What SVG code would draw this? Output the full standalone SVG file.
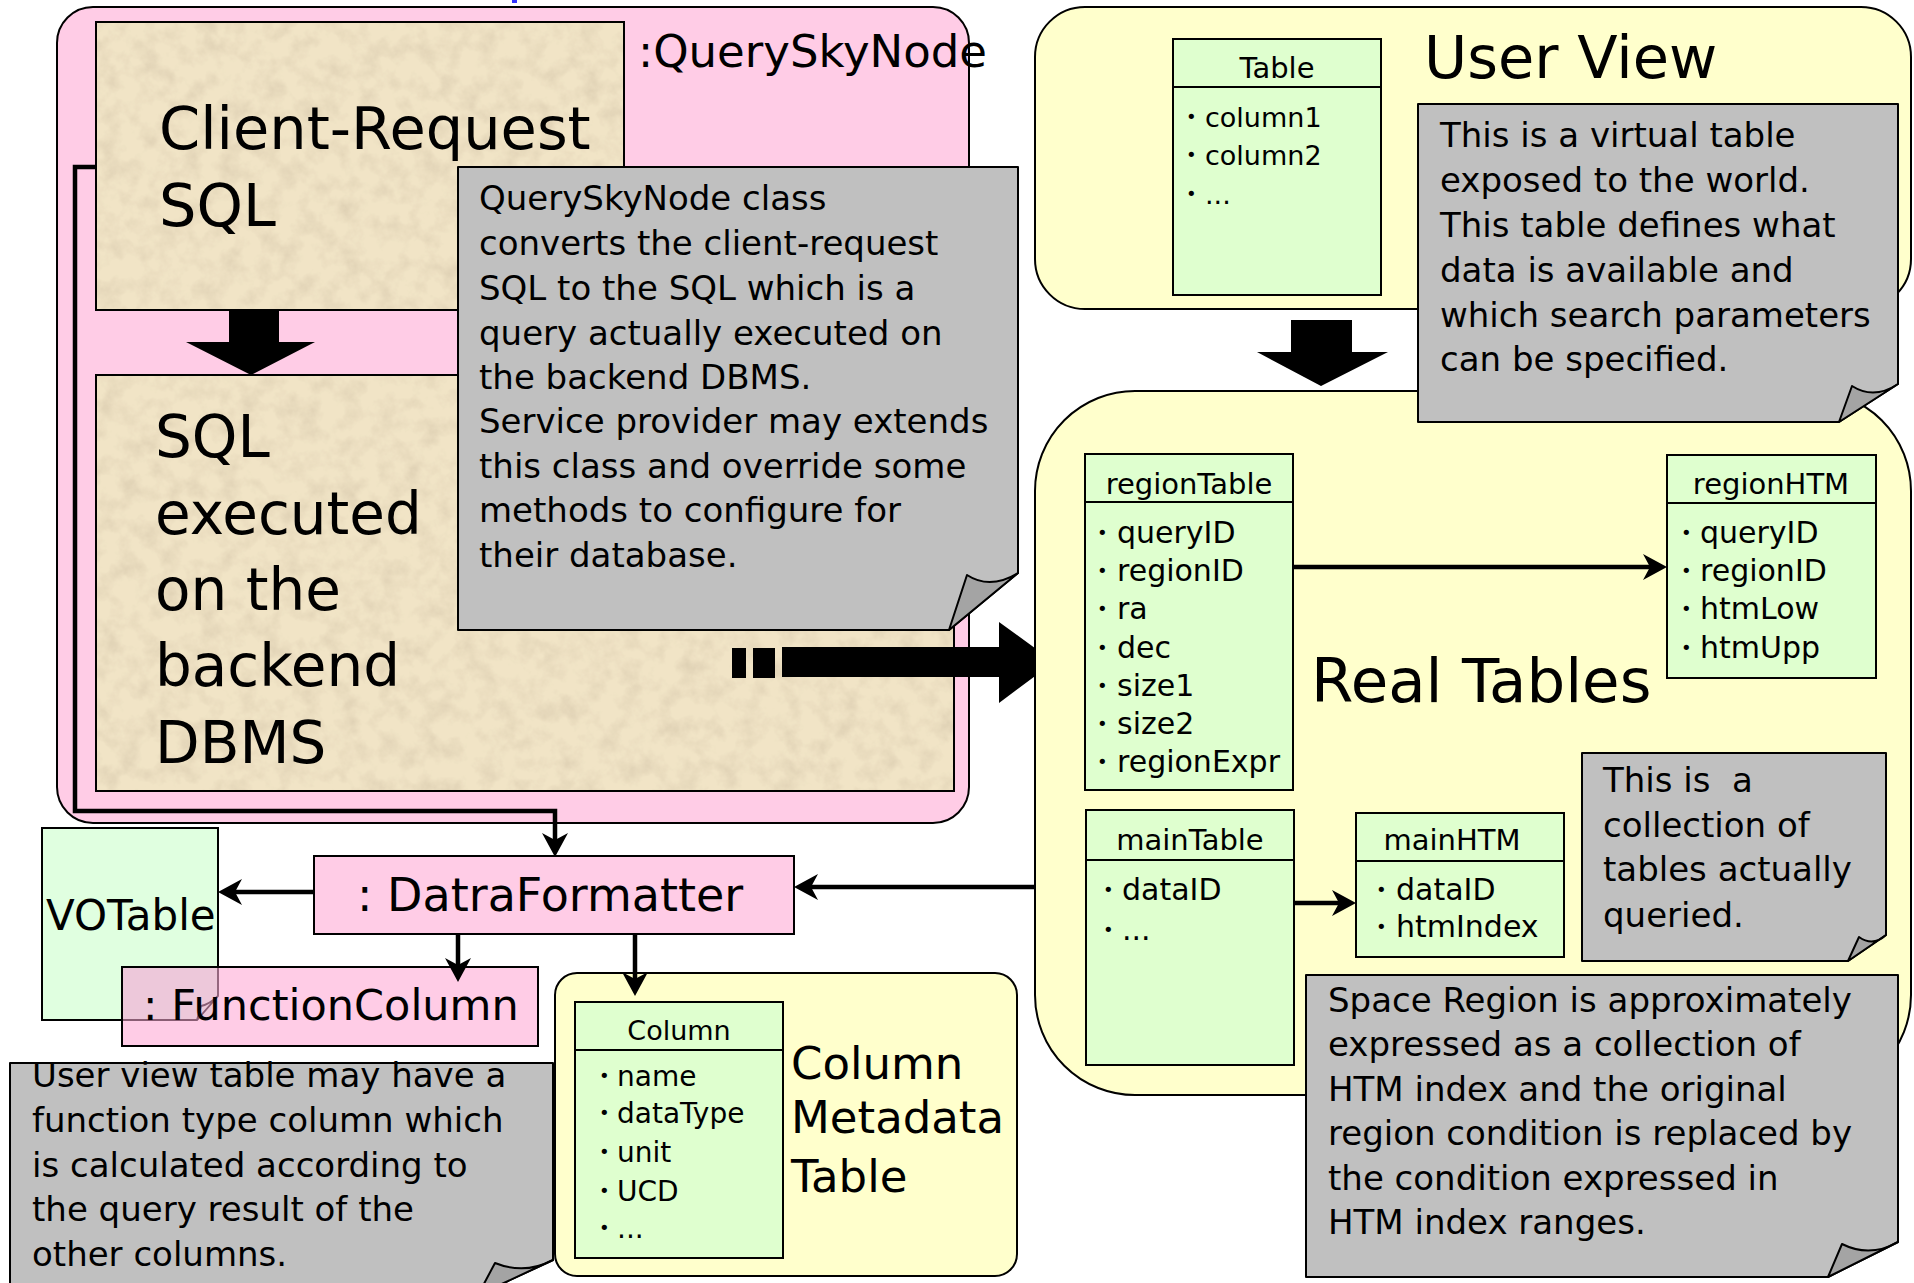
<svg xmlns="http://www.w3.org/2000/svg" width="1914" height="1283" viewBox="0 0 1914 1283">
<style>
text{font-family:"DejaVu Sans","Liberation Sans",sans-serif;fill:#000}
.bx{stroke:#000;stroke-width:2}
.pink{fill:#FFCCE6}
.yel{fill:#FFFFCC}
.grn{fill:#DFFFCF}
.note{fill:#C0C0C0;stroke:#000;stroke-width:2;stroke-linejoin:round}
.flap{fill:#A4A4A4;stroke:#000;stroke-width:2;stroke-linejoin:round}
.nt{font-size:34px}
.hd{font-size:58px}
.bl{font-size:18px}
.conn{fill:none;stroke:#000;stroke-width:4.5;marker-end:url(#ah)}
.blk{fill:#000}
</style>
<defs>
<marker id="ah" viewBox="-30 -16 40 32" markerWidth="40" markerHeight="32" refX="0" refY="0" orient="auto" markerUnits="userSpaceOnUse">
<path d="M8,0 L-16,-13 L-9,0 L-16,13 Z" fill="#000"/>
</marker>
<filter id="parch" x="0" y="0" width="1" height="1">
<feTurbulence type="fractalNoise" baseFrequency="0.05" numOctaves="4" seed="7" result="n"/>
<feColorMatrix in="n" type="matrix" values="0 0 0 0 0.74  0 0 0 0 0.64  0 0 0 0 0.46  2.0 0 0 0 -0.82" result="spots"/>
<feComposite in="spots" in2="SourceGraphic" operator="in" result="c"/>
<feMerge><feMergeNode in="SourceGraphic"/><feMergeNode in="c"/></feMerge>
</filter>
</defs>
<rect width="1914" height="1283" fill="#fff"/>
<rect x="512" y="0" width="5" height="3" fill="#3333ff"/>

<g id="querySkyNode">
<rect class="pink bx" x="57" y="7" width="912" height="816" rx="36"/>
<text x="638" y="67" font-size="45">:QuerySkyNode</text>
</g>

<g id="clientRequest">
<rect x="96" y="22" width="528" height="288" fill="#F1E4C6" filter="url(#parch)"/>
<rect x="96" y="22" width="528" height="288" fill="none" class="bx"/>
<text x="159" y="149" style="font-size:59px">Client-Request</text>
<text x="159" y="226" style="font-size:59px">SQL</text>
</g>

<g id="sqlExecuted">
<rect x="96" y="375" width="858" height="416" fill="#F1E4C6" filter="url(#parch)"/>
<rect x="96" y="375" width="858" height="416" fill="none" class="bx"/>
<text class="hd" x="155" y="457">SQL</text>
<text class="hd" x="155" y="534">executed</text>
<text class="hd" x="155" y="610">on the</text>
<text class="hd" x="155" y="686">backend</text>
<text class="hd" x="155" y="763">DBMS</text>
</g>

<g id="arrowDown1">
<polygon class="blk" points="229,310 279,310 279,342 315,342 251,375 186,342 229,342"/>
</g>

<g id="noteQuerySkyNode">
<path class="note" d="M458,167 H1018 V573 L949,630 H458 Z"/>
<path class="flap" d="M949,630 L967,575 Q990,590 1018,573 Z"/>
<text class="nt" x="479" y="210">QuerySkyNode class</text>
<text class="nt" x="479" y="255">converts the client-request</text>
<text class="nt" x="479" y="300">SQL to the SQL which is a</text>
<text class="nt" x="479" y="345">query actually executed on</text>
<text class="nt" x="479" y="389">the backend DBMS.</text>
<text class="nt" x="479" y="433">Service provider may extends</text>
<text class="nt" x="479" y="478">this class and override some</text>
<text class="nt" x="479" y="522">methods to configure for</text>
<text class="nt" x="479" y="567">their database.</text>
</g>

<g id="blockArrowRight">
<rect class="blk" x="732" y="648" width="14" height="30"/>
<rect class="blk" x="753" y="648" width="22" height="30"/>
<polygon class="blk" points="782,647 999,647 999,622 1054,662 999,703 999,677 782,677"/>
</g>

<g id="userView">
<rect class="yel bx" x="1035" y="7" width="876" height="302" rx="50"/>
<text x="1424" y="78" font-size="59">User View</text>
</g>

<g id="tableUser">
<rect class="grn bx" x="1173" y="39" width="208" height="256"/>
<line x1="1173" y1="87" x2="1381" y2="87" class="bx"/>
<text x="1277" y="78" font-size="29" text-anchor="middle">Table</text>
<g font-size="27">
<text x="1186" y="127"><tspan class="bl" dy="-4">•</tspan><tspan x="1205" dy="4">column1</tspan></text>
<text x="1186" y="165"><tspan class="bl" dy="-4">•</tspan><tspan x="1205" dy="4">column2</tspan></text>
<text x="1186" y="204"><tspan class="bl" dy="-4">•</tspan><tspan x="1205" dy="4">...</tspan></text>
</g>
</g>

<g id="arrowDown2">
<polygon class="blk" points="1291,320 1352,320 1352,352 1388,352 1321,386 1257,352 1291,352"/>
</g>

<g id="realTables">
<rect class="yel bx" x="1035" y="391" width="876" height="704" rx="100"/>
<text x="1311" y="702" font-size="61">Real Tables</text>
</g>

<g id="noteUserView">
<path class="note" d="M1418,104 H1898 V384 L1839,422 H1418 Z"/>
<path class="flap" d="M1839,422 L1852,386 Q1874,400 1898,384 Z"/>
<text class="nt" x="1440" y="147">This is a virtual table</text>
<text class="nt" x="1440" y="192">exposed to the world.</text>
<text class="nt" x="1440" y="237">This table defines what</text>
<text class="nt" x="1440" y="282">data is available and</text>
<text class="nt" x="1440" y="327">which search parameters</text>
<text class="nt" x="1440" y="371">can be specified.</text>
</g>

<g id="regionTable">
<rect class="grn bx" x="1085" y="454" width="208" height="336"/>
<line x1="1085" y1="502" x2="1293" y2="502" class="bx"/>
<text x="1189" y="494" font-size="29" text-anchor="middle">regionTable</text>
<g font-size="30">
<text x="1097" y="543"><tspan class="bl" dy="-4">•</tspan><tspan x="1117" dy="4">queryID</tspan></text>
<text x="1097" y="581"><tspan class="bl" dy="-4">•</tspan><tspan x="1117" dy="4">regionID</tspan></text>
<text x="1097" y="619"><tspan class="bl" dy="-4">•</tspan><tspan x="1117" dy="4">ra</tspan></text>
<text x="1097" y="658"><tspan class="bl" dy="-4">•</tspan><tspan x="1117" dy="4">dec</tspan></text>
<text x="1097" y="696"><tspan class="bl" dy="-4">•</tspan><tspan x="1117" dy="4">size1</tspan></text>
<text x="1097" y="734"><tspan class="bl" dy="-4">•</tspan><tspan x="1117" dy="4">size2</tspan></text>
<text x="1097" y="772"><tspan class="bl" dy="-4">•</tspan><tspan x="1117" dy="4">regionExpr</tspan></text>
</g>
</g>

<g id="regionHTM">
<rect class="grn bx" x="1667" y="455" width="209" height="223"/>
<line x1="1667" y1="503" x2="1876" y2="503" class="bx"/>
<text x="1771" y="494" font-size="29" text-anchor="middle">regionHTM</text>
<g font-size="30">
<text x="1681" y="543"><tspan class="bl" dy="-4">•</tspan><tspan x="1700" dy="4">queryID</tspan></text>
<text x="1681" y="581"><tspan class="bl" dy="-4">•</tspan><tspan x="1700" dy="4">regionID</tspan></text>
<text x="1681" y="619"><tspan class="bl" dy="-4">•</tspan><tspan x="1700" dy="4">htmLow</tspan></text>
<text x="1681" y="658"><tspan class="bl" dy="-4">•</tspan><tspan x="1700" dy="4">htmUpp</tspan></text>
</g>
</g>

<g id="mainTable">
<rect class="grn bx" x="1086" y="810" width="208" height="255"/>
<line x1="1086" y1="860" x2="1294" y2="860" class="bx"/>
<text x="1190" y="850" font-size="29" text-anchor="middle">mainTable</text>
<g font-size="30">
<text x="1103" y="900"><tspan class="bl" dy="-4">•</tspan><tspan x="1122" dy="4">dataID</tspan></text>
<text x="1103" y="940"><tspan class="bl" dy="-4">•</tspan><tspan x="1122" dy="4">...</tspan></text>
</g>
</g>

<g id="mainHTM">
<rect class="grn bx" x="1356" y="813" width="208" height="144"/>
<line x1="1356" y1="861" x2="1564" y2="861" class="bx"/>
<text x="1452" y="850" font-size="29" text-anchor="middle">mainHTM</text>
<g font-size="30">
<text x="1376" y="900"><tspan class="bl" dy="-4">•</tspan><tspan x="1396" dy="4">dataID</tspan></text>
<text x="1376" y="937"><tspan class="bl" dy="-4">•</tspan><tspan x="1396" dy="4">htmIndex</tspan></text>
</g>
</g>

<g id="noteCollection">
<path class="note" d="M1582,753 H1886 V935 L1848,961 H1582 Z"/>
<path class="flap" d="M1848,961 L1859,937 Q1873,947 1886,935 Z"/>
<text class="nt" x="1603" y="792">This is&#160; a</text>
<text class="nt" x="1603" y="837">collection of</text>
<text class="nt" x="1603" y="881">tables actually</text>
<text class="nt" x="1603" y="927">queried.</text>
</g>

<g id="noteSpaceRegion">
<path class="note" d="M1306,975 H1898 V1242 L1828,1277 H1306 Z"/>
<path class="flap" d="M1828,1277 L1842,1244 Q1870,1258 1898,1242 Z"/>
<text class="nt" x="1328" y="1012">Space Region is approximately</text>
<text class="nt" x="1328" y="1056">expressed as a collection of</text>
<text class="nt" x="1328" y="1101">HTM index and the original</text>
<text class="nt" x="1328" y="1145">region condition is replaced by</text>
<text class="nt" x="1328" y="1190">the condition expressed in</text>
<text class="nt" x="1328" y="1234">HTM index ranges.</text>
</g>

<g id="datraFormatter">
<rect class="pink bx" x="314" y="856" width="480" height="78"/>
<text x="357" y="911" font-size="46">: DatraFormatter</text>
</g>

<g id="voTable">
<path d="M42,828 H218 V996 L197,1020 H42 Z" fill="#E0FFE0" stroke="#000" stroke-width="2"/>
<text x="46" y="930" font-size="42">VOTable</text>
</g>

<g id="functionColumn">
<rect class="pink" x="122" y="967" width="416" height="79"/>
<rect x="123" y="968" width="95" height="52" fill="#EDC8DA"/>
<path d="M123,1020 H197 L218,996 V968 M197,1020 L201,1006 Q210,1004 218,996" fill="none" stroke="#8A5D74" stroke-width="1.8"/>
<rect x="122" y="967" width="416" height="79" fill="none" class="bx"/>
<text x="143" y="1020" font-size="43">: FunctionColumn</text>
</g>

<g id="columnMetadata">
<rect class="yel bx" x="555" y="973" width="462" height="303" rx="22"/>
<text x="791" y="1079" font-size="45">Column</text>
<text x="791" y="1133" font-size="45">Metadata</text>
<text x="791" y="1192" font-size="45">Table</text>
</g>

<g id="columnTable">
<rect class="grn bx" x="575" y="1002" width="208" height="256"/>
<line x1="575" y1="1050" x2="783" y2="1050" class="bx"/>
<text x="679" y="1040" font-size="27" text-anchor="middle">Column</text>
<g font-size="28">
<text x="599" y="1086"><tspan class="bl" dy="-4">•</tspan><tspan x="617" dy="4">name</tspan></text>
<text x="599" y="1123"><tspan class="bl" dy="-4">•</tspan><tspan x="617" dy="4">dataType</tspan></text>
<text x="599" y="1162"><tspan class="bl" dy="-4">•</tspan><tspan x="617" dy="4">unit</tspan></text>
<text x="599" y="1201"><tspan class="bl" dy="-4">•</tspan><tspan x="617" dy="4">UCD</tspan></text>
<text x="599" y="1238"><tspan class="bl" dy="-4">•</tspan><tspan x="617" dy="4">...</tspan></text>
</g>
</g>

<g id="noteFunction">
<path class="note" d="M10,1063 H553 V1260 L478,1295 H10 Z"/>
<path class="flap" d="M478,1295 L495,1263 Q525,1275 553,1260 Z"/>
<text class="nt" x="32" y="1087">User view table may have a</text>
<text class="nt" x="32" y="1132">function type column which</text>
<text class="nt" x="32" y="1177">is calculated according to</text>
<text class="nt" x="32" y="1221">the query result of the</text>
<text class="nt" x="32" y="1266">other columns.</text>
</g>

<g id="connectors">
<path class="conn" d="M96,167 H75 V811 H555 V849"/>
<path class="conn" d="M1035,887 H802"/>
<path class="conn" d="M314,892 H226"/>
<path class="conn" d="M458,934 V974"/>
<path class="conn" d="M635,934 V988"/>
<path class="conn" d="M1293,567 H1659"/>
<path class="conn" d="M1294,903 H1348"/>
</g>
</svg>
